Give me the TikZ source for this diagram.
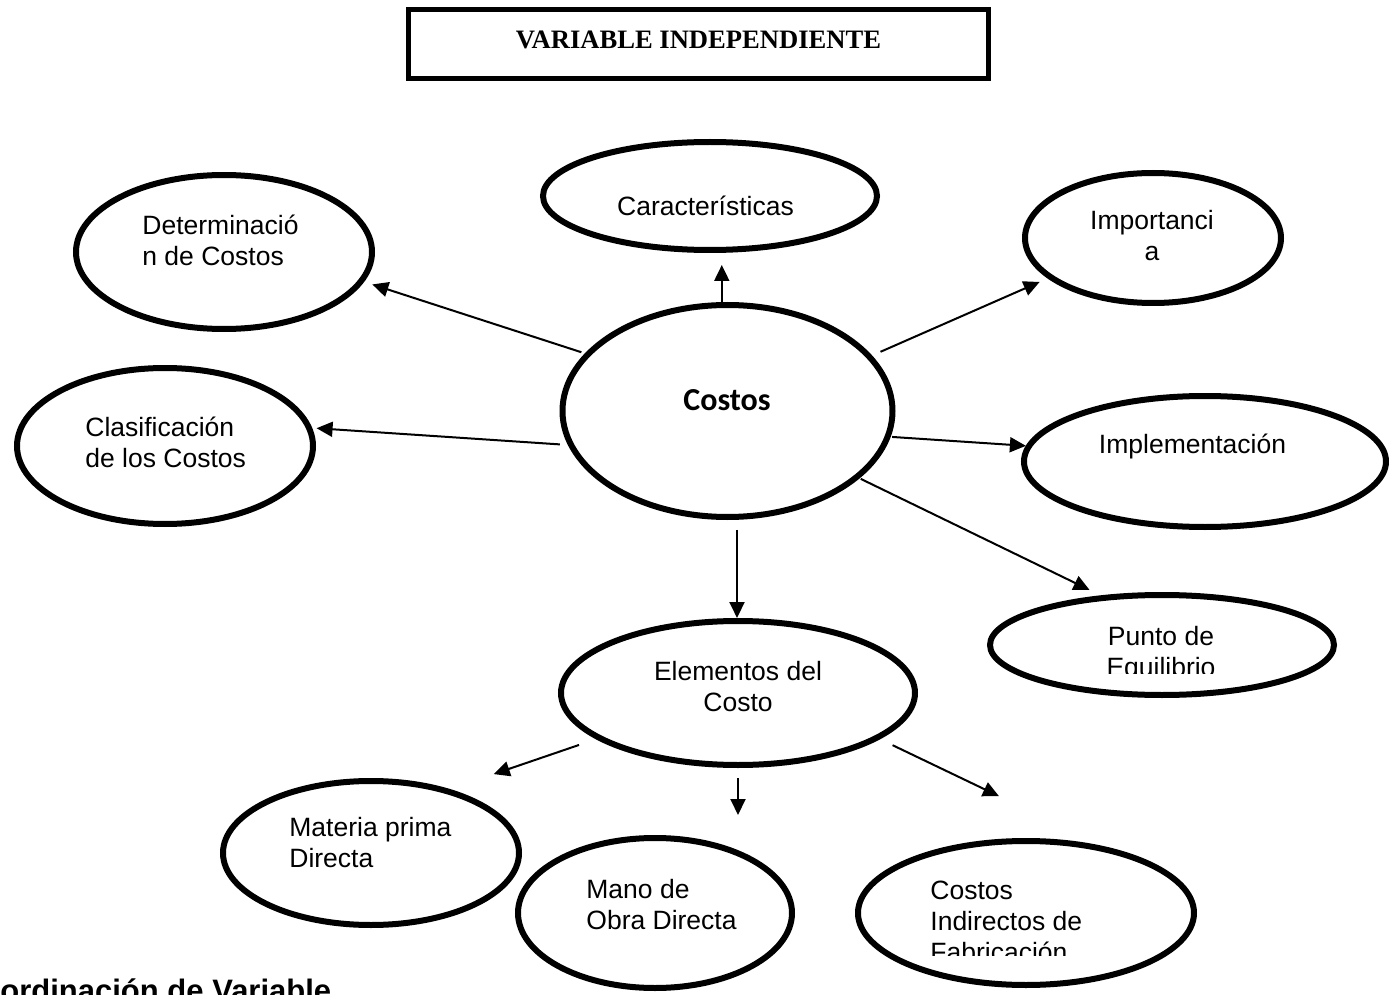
\documentclass[tikz,border=0pt]{standalone}
\usepackage{fontspec}
\newfontfamily\arialf{Liberation Sans}
\newfontfamily\timesf{Liberation Serif}
\newfontfamily\calibrif{Carlito}
\usetikzlibrary{shapes.geometric,arrows.meta}
\newcommand\lbfont{\arialf\fontsize{13.25pt}{15.5pt}\selectfont}
\begin{document}
\begin{tikzpicture}[x=0.5pt,y=-0.5pt,
  bub/.style={ellipse, draw, line width=3pt, inner sep=0pt},
  lbl/.style={font=\lbfont, inner sep=0pt},
  lblL/.style={lbl, align=left, anchor=base west},
  lblC/.style={lbl, align=center, anchor=base},
  arr/.style={-{Triangle[length=8pt,width=7.5pt]}, line width=1pt}]
\useasboundingbox (0,0) rectangle (1389,995);
\fill[white] (0,0) rectangle (1389,995);

% title
\node[draw, line width=2.5pt, minimum width=290pt, minimum height=34.5pt, inner sep=0pt] (title) at (698.5,44) {};
\node[font=\timesf\bfseries\fontsize{13.3pt}{16pt}\selectfont, anchor=base, inner sep=0pt] (titlet) at (698.5,49) {VARIABLE INDEPENDIENTE};

% ellipses
\node[bub, minimum width=167pt, minimum height=54pt] (car) at (710,196) {};
\node[bub, minimum width=148pt, minimum height=77pt] (det) at (224,252) {};
\node[bub, minimum width=128pt, minimum height=65pt] (imp) at (1153,238) {};
\node[bub, minimum width=165pt, minimum height=106pt] (costos) at (727.5,411) {};
\node[bub, minimum width=148pt, minimum height=78pt] (clas) at (165,446) {};
\node[bub, minimum width=181pt, minimum height=65.5pt] (impl) at (1205,461.5) {};
\node[bub, minimum width=172pt, minimum height=50pt] (punto) at (1162,645) {};
\node[bub, minimum width=177pt, minimum height=72pt] (elem) at (738,693) {};
\node[bub, minimum width=148pt, minimum height=72pt] (mat) at (371,853) {};
\node[bub, minimum width=137pt, minimum height=75pt] (mano) at (655,913) {};
\node[bub, minimum width=168pt, minimum height=72pt] (cif) at (1026,913) {};

% texts (multi-line nodes: base = last line)
\node[lblC] (cart) at (705.5,216) {Características};
\node[lblL] (dett) at (142,265) {Determinació\\n de Costos};
\node[lblC] (impt) at (1152,261) {Importanci\\a};
\node[font=\calibrif\bfseries\fontsize{16pt}{19pt}\selectfont, anchor=base, inner sep=0pt] (costost) at (727,410) {Costos};
\node[lblL] (clast) at (85,467) {Clasificación\\de los Costos};
\node[lblC] (implt) at (1192.5,453) {Implementación};
\begin{scope}
  \clip (1050,600) rectangle (1280,673);
  \node[lblC] (puntot) at (1161,676) {Punto de\\Equilibrio};
\end{scope}
\node[lblC] (elemt) at (738,711) {Elementos del\\Costo};
\node[lblL] (matt) at (289,867) {Materia prima\\Directa};
\node[lblL] (manot) at (586,929) {Mano de\\Obra Directa};
\begin{scope}
  \clip (900,860) rectangle (1150,955);
  \node[lblL] (cift) at (930,961) {Costos\\Indirectos de\\Fabricación};
\end{scope}
\node[font=\arialf\bfseries\fontsize{15.5pt}{18pt}\selectfont, anchor=base west, inner sep=0pt] (subt) at (0,1001) {ordinación de Variable};

% connectors
\draw[arr, shorten >=6pt] (costos.93) -- (costos.93 |- car.south);
\draw[arr, shorten <=1.85pt, shorten >=4.3pt] (costos.158.5) -- (det.348.25);
\draw[arr, shorten <=4.6pt, shorten >=4.4pt] (costos.21.1) -- (imp.201.27);
\draw[arr, shorten <=4pt, shorten >=2.2pt] (costos.192.1) -- (clas.7.55);
\draw[arr, shorten <=0.75pt] (costos.351.75) -- (impl.175.45);
\draw[arr, shorten <=0.65pt, shorten >=6.2pt] (costos.333.5) -- (punto.141.75);
\draw[arr, shorten <=5pt] (costos.275) -- (costos.275 |- elem.north);
\draw[arr, shorten <=9pt, shorten >=23.15pt] (elem.198.05) -- (mat.39.4);
\draw[arr, shorten <=5pt, shorten >=10pt] (elem.south) -- (elem.south |- mano.north);
\draw[arr, shorten <=7pt, shorten >=57.7pt] (elem.342.1) -- (cif.41);
\end{tikzpicture}
\end{document}
